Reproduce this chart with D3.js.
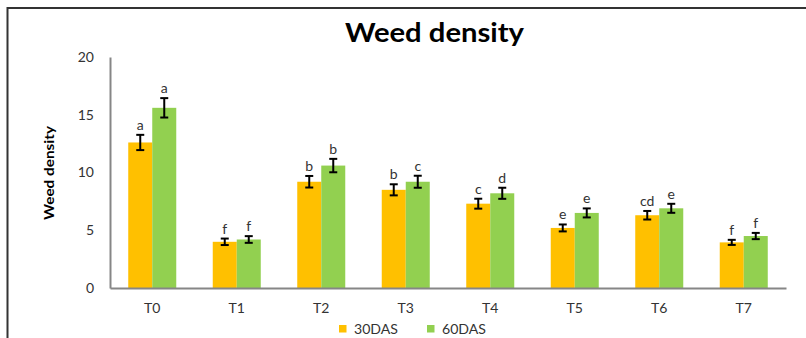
<!DOCTYPE html>
<html>
<head>
<meta charset="utf-8">
<script src="https://cdn.jsdelivr.net/npm/d3@7"></script>
<style>
  html, body { margin: 0; padding: 0; background: #fff; }
  svg { display: block; }
  text { font-family: Lato, "Open Sans", sans-serif; }
</style>
</head>
<body>
<svg id="chart" width="806" height="338"></svg>
<script>
// Weed density at 30 and 60 days after sowing, per treatment
const categories = ["T0", "T1", "T2", "T3", "T4", "T5", "T6", "T7"];
const seriesNames = ["30DAS", "60DAS"];
const das30 = [12.6, 4.0, 9.2, 8.5, 7.3, 5.2, 6.3, 3.95];
const das60 = [15.6, 4.2, 10.6, 9.2, 8.2, 6.5, 6.9, 4.5];
const err30 = [0.66, 0.28, 0.5, 0.48, 0.43, 0.3, 0.37, 0.22];
const err60 = [0.84, 0.29, 0.58, 0.52, 0.48, 0.39, 0.39, 0.27];
const letters30 = ["a", "f", "b", "b", "c", "e", "cd", "f"];
const letters60 = ["a", "f", "b", "c", "d", "e", "e", "f"];
const yTicks = [0, 5, 10, 15, 20];
const colors = ["#FFC000", "#92D050"];

const svg = d3.select("#chart");

// outer chart frame
svg.append("path")
  .attr("d", "M7.5,340 V8 H810")
  .attr("fill", "none")
  .attr("stroke", "#333")
  .attr("stroke-width", 2);

const x = d3.scaleBand().domain(categories).range([110, 786]);
const inner = d3.scaleBand().domain(seriesNames).range([0, x.bandwidth()]).paddingInner(0).paddingOuter(0.76);
const y = d3.scaleLinear().domain([0, 20]).range([288, 57]);

// title
svg.append("text")
  .attr("x", 434.5).attr("y", 41.5)
  .attr("text-anchor", "middle")
  .attr("font-size", 26).attr("font-weight", "bold")
  .attr("textLength", 179).attr("lengthAdjust", "spacingAndGlyphs")
  .attr("fill", "#000")
  .text("Weed density");

// y axis
const yAxis = svg.append("g").attr("transform", "translate(110,0)")
  .call(d3.axisLeft(y).tickValues(yTicks).tickSize(0).tickPadding(16));
yAxis.select(".domain").attr("stroke", "#868686").attr("stroke-width", 2);
yAxis.selectAll("text").attr("font-size", 14).attr("fill", "#333");

svg.append("text")
  .attr("transform", "translate(54,173) rotate(-90)")
  .attr("text-anchor", "middle")
  .attr("font-size", 14).attr("font-weight", "bold")
  .attr("textLength", 94).attr("lengthAdjust", "spacingAndGlyphs")
  .attr("fill", "#000")
  .text("Weed density");

// bars
const rows = categories.map((c, i) => ({
  cat: c,
  vals: [
    { s: seriesNames[0], v: das30[i], e: err30[i], l: letters30[i] },
    { s: seriesNames[1], v: das60[i], e: err60[i], l: letters60[i] }
  ]
}));

const groups = svg.append("g").selectAll("g").data(rows).join("g")
  .attr("transform", d => `translate(${x(d.cat)},0)`);

groups.selectAll("rect").data(d => d.vals).join("rect")
  .attr("x", d => inner(d.s))
  .attr("width", inner.bandwidth())
  .attr("y", d => y(d.v))
  .attr("height", d => y(0) - y(d.v))
  .attr("fill", (d, i) => colors[i]);

// error bars
const eb = groups.selectAll("g.err").data(d => d.vals).join("g").attr("class", "err");
eb.append("line")
  .attr("x1", d => inner(d.s) + inner.bandwidth() / 2)
  .attr("x2", d => inner(d.s) + inner.bandwidth() / 2)
  .attr("y1", d => y(d.v - d.e)).attr("y2", d => y(d.v + d.e));
eb.append("line")
  .attr("x1", d => inner(d.s) + inner.bandwidth() / 2 - 4)
  .attr("x2", d => inner(d.s) + inner.bandwidth() / 2 + 4)
  .attr("y1", d => y(d.v + d.e)).attr("y2", d => y(d.v + d.e));
eb.append("line")
  .attr("x1", d => inner(d.s) + inner.bandwidth() / 2 - 4)
  .attr("x2", d => inner(d.s) + inner.bandwidth() / 2 + 4)
  .attr("y1", d => y(d.v - d.e)).attr("y2", d => y(d.v - d.e));
eb.selectAll("line").attr("stroke", "#000").attr("stroke-width", 2);

// significance letters
groups.selectAll("text.sig").data(d => d.vals).join("text")
  .attr("class", "sig")
  .attr("x", d => inner(d.s) + inner.bandwidth() / 2)
  .attr("y", d => y(d.v + d.e) - 5)
  .attr("text-anchor", "middle")
  .attr("font-size", 14)
  .attr("fill", "#333")
  .text(d => d.l);

// x axis
const xAxis = svg.append("g").attr("transform", "translate(0,288)")
  .call(d3.axisBottom(x).tickSize(0).tickPadding(15));
xAxis.select(".domain").attr("stroke", "#868686").attr("stroke-width", 2);
xAxis.selectAll("text").attr("font-size", 14).attr("fill", "#333");

// legend
const legendX = [339, 427];
const legend = svg.append("g").selectAll("g").data(seriesNames).join("g")
  .attr("transform", (d, i) => `translate(${legendX[i]},325)`);
legend.append("rect").attr("width", 7.5).attr("height", 7.5).attr("fill", (d, i) => colors[i]);
legend.append("text")
  .attr("x", 15).attr("y", 8.5)
  .attr("font-size", 14).attr("fill", "#333")
  .attr("textLength", 44).attr("lengthAdjust", "spacingAndGlyphs")
  .text(d => d);
</script>
</body>
</html>
